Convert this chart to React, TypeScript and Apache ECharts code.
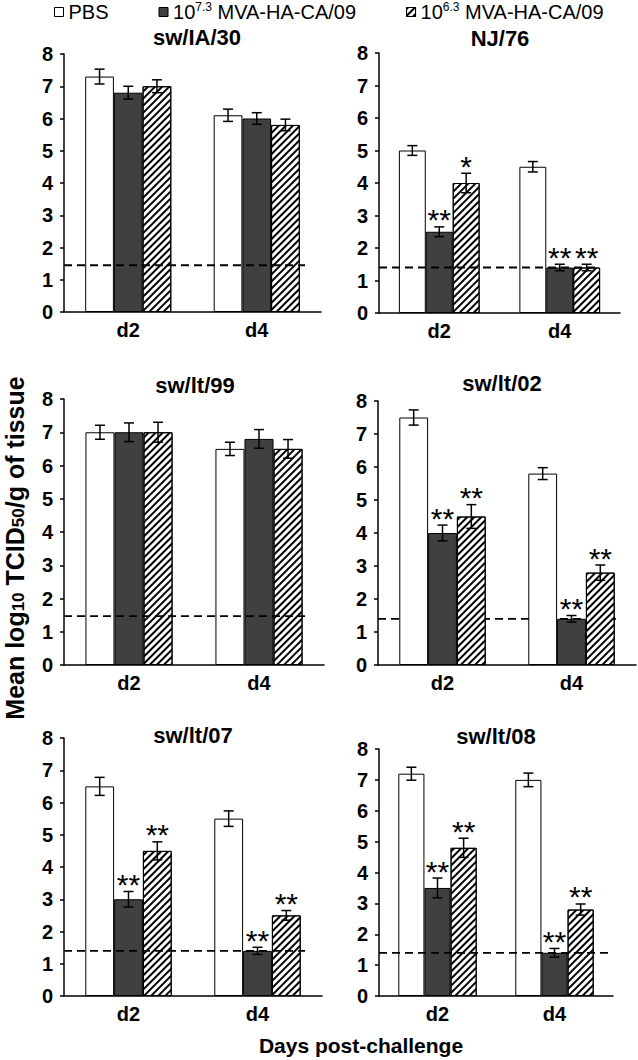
import React, { useEffect, useRef } from 'react';
import * as echarts from 'echarts';

// ---------- data ----------
const categories = ['d2', 'd4'];
const panelTitles = ['sw/IA/30', 'NJ/76', 'sw/lt/99', 'sw/lt/02', 'sw/lt/07', 'sw/lt/08'];
const seriesNames = ['PBS', '10^7.3 MVA-HA-CA/09', '10^6.3 MVA-HA-CA/09'];
const pbsMeans = [[7.3, 6.1], [5.0, 4.5], [7.0, 6.5], [7.5, 5.8], [6.5, 5.5], [7.2, 7.0]];
const pbsErrors = [[0.23, 0.19], [0.15, 0.16], [0.21, 0.2], [0.23, 0.18], [0.28, 0.24], [0.21, 0.22]];
const high73Means = [[6.8, 6.0], [2.5, 1.4], [7.0, 6.8], [4.0, 1.4], [3.0, 1.4], [3.5, 1.4]];
const high73Errors = [[0.2, 0.18], [0.15, 0.1], [0.28, 0.28], [0.24, 0.1], [0.24, 0.11], [0.32, 0.14]];
const low63Means = [[7.0, 5.8], [4.0, 1.4], [7.0, 6.5], [4.5, 2.8], [4.5, 2.5], [4.8, 2.8]];
const low63Errors = [[0.2, 0.18], [0.3, 0.1], [0.3, 0.28], [0.36, 0.23], [0.28, 0.15], [0.31, 0.18]];
const high73Stars = [['', ''], ['**', '**'], ['', ''], ['**', '**'], ['**', '**'], ['**', '**']];
const low63Stars = [['', ''], ['*', '**'], ['', ''], ['**', '**'], ['**', '**'], ['**', '**']];
const detectionLimits = [1.45, 1.4, 1.47, 1.4, 1.4, 1.4];
const yMin = 0;
const yMax = 8;
const yInterval = 1;
const yAxisTitle = 'Mean log{sub|10} TCID{sub|50}/g of tissue';
const xAxisTitle = 'Days post-challenge';

// ---------- layout ----------
const FONT = 'Liberation Sans, Arial, Helvetica, sans-serif';
const CAT_GAP = 0.33;
const layouts = [
  { left: 64, top: 54, width: 257, height: 258, tx: 197, ty: 37, inset: 16, lineOnTop: true },
  { left: 379, top: 53, width: 241, height: 260, tx: 500, ty: 38, inset: 20, lineOnTop: true },
  { left: 64, top: 399, width: 260, height: 266, tx: 195, ty: 385.5, inset: 19, lineOnTop: true },
  { left: 378, top: 401, width: 258, height: 264, tx: 502, ty: 383, inset: 20, lineOnTop: false },
  { left: 64, top: 738, width: 258, height: 258, tx: 193, ty: 735.5, inset: 17, lineOnTop: true },
  { left: 379, top: 749, width: 234, height: 247, tx: 496, ty: 736, inset: 0, lineOnTop: true },
];

const axisLineStyle = { color: '#000', width: 1.5 };

function buildOption() {
  const grid: any[] = [];
  const xAxis: any[] = [];
  const yAxis: any[] = [];
  const series: any[] = [];
  const graphic: any[] = [];

  layouts.forEach((L, i) => {
    grid.push({ left: L.left, top: L.top, width: L.width, height: L.height, containLabel: false });
    xAxis.push({
      type: 'category',
      gridIndex: i,
      data: categories,
      axisLine: { lineStyle: axisLineStyle },
      axisTick: { length: 5, lineStyle: axisLineStyle },
      axisLabel: { fontSize: 20, fontWeight: 'bold', color: '#000', margin: 8, fontFamily: FONT },
      splitLine: { show: false },
    });
    yAxis.push({
      type: 'value',
      gridIndex: i,
      min: yMin,
      max: yMax,
      interval: yInterval,
      axisLine: { show: true, lineStyle: axisLineStyle },
      axisTick: { show: true, length: 4, lineStyle: axisLineStyle },
      axisLabel: { fontSize: 20, fontWeight: 'bold', color: '#000', margin: 11, fontFamily: FONT },
      splitLine: { show: false },
    });

    const means = [pbsMeans[i], high73Means[i], low63Means[i]];
    const errs = [pbsErrors[i], high73Errors[i], low63Errors[i]];
    const stars = [['', ''], high73Stars[i], low63Stars[i]];

    means.forEach((m, s) => {
      const itemStyle: any = {
        color: s === 1 ? '#404040' : '#ffffff',
        borderColor: '#000',
        borderWidth: 1,
      };
      if (s === 2) {
        itemStyle.decal = {
          symbol: 'rect',
          symbolSize: 1,
          dashArrayX: [1, 0],
          dashArrayY: [1.5, 2.5],
          rotation: -Math.PI / 4,
          color: '#000',
          backgroundColor: '#fff',
        };
      }
      series.push({
        type: 'bar',
        name: seriesNames[s],
        xAxisIndex: i,
        yAxisIndex: i,
        data: m,
        barGap: '0%',
        barCategoryGap: CAT_GAP * 100 + '%',
        itemStyle,
        emphasis: { disabled: true },
        z: 2,
      });
    });

    // detection-limit dashed line
    series.push({
      type: 'custom',
      xAxisIndex: i,
      yAxisIndex: i,
      data: [[0, detectionLimits[i]]],
      z: L.lineOnTop ? 4 : 1,
      silent: true,
      renderItem: (params: any, api: any) => {
        const v = api.value(1);
        const band = api.size([1, 0])[0];
        const p0 = api.coord([0, v]);
        const p1 = api.coord([1, v]);
        return {
          type: 'line',
          shape: { x1: p0[0] - band / 2, y1: p0[1], x2: p1[0] + band / 2 - L.inset, y2: p0[1] },
          style: { stroke: '#000', lineWidth: 1.8, lineDash: [8, 5] },
        };
      },
    });

    // error bars + significance stars
    const items: any[] = [];
    for (let s = 0; s < 3; s++) {
      for (let c = 0; c < categories.length; c++) {
        items.push({ c, s, mean: means[s][c], err: errs[s][c], star: stars[s][c] });
      }
    }
    series.push({
      type: 'custom',
      xAxisIndex: i,
      yAxisIndex: i,
      data: items.map((it) => [it.c, it.mean, it.err]),
      z: 5,
      silent: true,
      renderItem: (params: any, api: any) => {
        const it = items[params.dataIndex];
        const band = api.size([1, 0])[0];
        const bw = (band * (1 - CAT_GAP)) / 3;
        const cx = api.coord([it.c, it.mean])[0] + (it.s - 1) * bw;
        const yTop = api.coord([it.c, it.mean + it.err])[1];
        const yBot = api.coord([it.c, it.mean - it.err])[1];
        const st = { stroke: '#000', lineWidth: 1.5 };
        const children: any[] = [
          { type: 'line', shape: { x1: cx, y1: yTop, x2: cx, y2: yBot }, style: st },
          { type: 'line', shape: { x1: cx - 5, y1: yTop, x2: cx + 5, y2: yTop }, style: st },
          { type: 'line', shape: { x1: cx - 5, y1: yBot, x2: cx + 5, y2: yBot }, style: st },
        ];
        if (it.star) {
          children.push({
            type: 'text',
            x: cx,
            y: yTop - 7,
            style: {
              text: it.star,
              fontSize: 30,
              fontFamily: FONT,
              fill: '#000',
              align: 'center',
              verticalAlign: 'middle',
            },
          });
        }
        return { type: 'group', children };
      },
    });

    graphic.push({
      type: 'text',
      x: L.tx,
      y: L.ty,
      style: {
        text: panelTitles[i],
        fontSize: 22,
        fontWeight: 'bold',
        fontFamily: FONT,
        fill: '#000',
        align: 'center',
        verticalAlign: 'middle',
      },
    });
  });

  graphic.push({
    type: 'text',
    x: 15,
    y: 548,
    rotation: Math.PI / 2,
    style: {
      text: yAxisTitle,
      fontSize: 25,
      fontWeight: 'bold',
      fontFamily: FONT,
      fill: '#000',
      align: 'center',
      verticalAlign: 'middle',
      lineHeight: 24,
      rich: {
        sub: { fontSize: 17, fontWeight: 'bold', fontFamily: FONT, fill: '#000', verticalAlign: 'bottom', lineHeight: 12 },
      },
    },
  });
  graphic.push({
    type: 'text',
    x: 361,
    y: 1045.5,
    style: {
      text: xAxisTitle,
      fontSize: 21,
      fontWeight: 'bold',
      fontFamily: FONT,
      fill: '#000',
      align: 'center',
      verticalAlign: 'middle',
    },
  });

  return {
    animation: false,
    backgroundColor: '#fff',
    grid,
    xAxis,
    yAxis,
    series,
    graphic,
    legend: {
      data: seriesNames,
      left: 54,
      top: 1,
      icon: 'rect',
      itemWidth: 9,
      itemHeight: 9,
      itemGap: 50,
      padding: 0,
      selectedMode: false,
      itemStyle: { borderColor: '#000', borderWidth: 1 },
      formatter: (name: string) => name.replace(/\^([0-9.]+)/, '{sup|$1}'),
      textStyle: {
        fontSize: 20,
        fontFamily: FONT,
        color: '#000',
        lineHeight: 22,
        rich: {
          sup: { fontSize: 12, fontFamily: FONT, color: '#000', verticalAlign: 'top', lineHeight: 12 },
        },
      },
    },
  };
}

export default function App() {
  const ref = useRef<HTMLDivElement>(null);
  useEffect(() => {
    if (!ref.current) return;
    const chart = echarts.init(ref.current, undefined, { renderer: 'svg' });
    chart.setOption(buildOption() as any);
    return () => chart.dispose();
  }, []);
  return (
    <div
      ref={ref}
      style={{ position: 'absolute', left: 0, top: 0, width: 638, height: 1060, background: '#fff' }}
    />
  );
}
